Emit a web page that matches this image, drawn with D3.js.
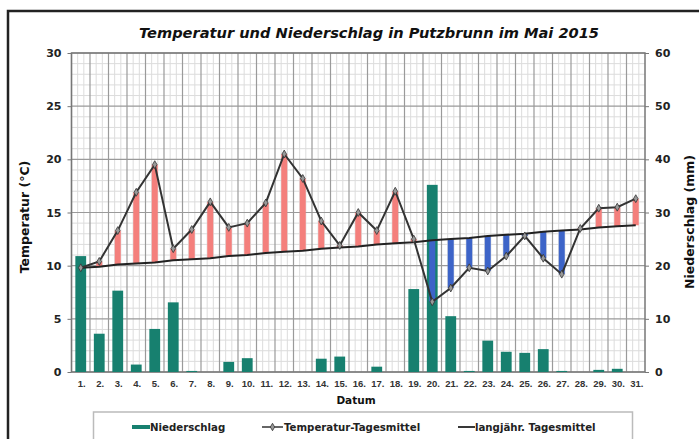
<!DOCTYPE html>
<html>
<head>
<meta charset="utf-8">
<script src="https://cdn.jsdelivr.net/npm/d3@7"></script>
<style>
  body { margin: 0; background: #fff; }
  svg { display: block; font-family: "DejaVu Sans", sans-serif; }
</style>
</head>
<body>
<svg id="chart" width="699" height="439"></svg>
<script>
// data
const days = d3.range(1, 32).map(d => d + ".");
const tempMean = [9.8, 10.4, 13.3, 16.9, 19.5, 11.6, 13.4, 16.0, 13.6, 14.0, 15.9, 20.5, 18.2, 14.2, 11.9, 15.0,
                  13.3, 17.0, 12.5, 6.6, 7.9, 9.8, 9.5, 10.9, 12.8, 10.7, 9.2, 13.5, 15.4, 15.5, 16.3];
const longTerm = [9.8, 9.9, 10.1, 10.2, 10.3, 10.5, 10.6, 10.7, 10.9, 11.0, 11.2, 11.3, 11.4, 11.6, 11.7, 11.8,
                  12.0, 12.1, 12.2, 12.4, 12.5, 12.6, 12.8, 12.9, 13.0, 13.2, 13.3, 13.4, 13.6, 13.7, 13.8];
const precip = [21.8, 7.2, 15.3, 1.4, 8.1, 13.1, 0.2, 0, 1.9, 2.6, 0, 0, 0, 2.5, 2.9, 0,
                1.0, 0, 15.6, 35.2, 10.5, 0.2, 5.9, 3.8, 3.6, 4.3, 0.2, 0, 0.4, 0.6, 0];
const tempTicks = [0, 5, 10, 15, 20, 25, 30];
const precipTicks = [0, 10, 20, 30, 40, 50, 60];
const legendItems = ["Niederschlag", "Temperatur-Tagesmittel", "langjähr. Tagesmittel"];

const svg = d3.select("#chart");
const pLeft = 71.5, pRight = 645, pTop = 53, pBottom = 372;

const x = d3.scaleBand().domain(days).range([pLeft, pRight]).padding(0);
const yT = d3.scaleLinear().domain([0, 30]).range([pBottom, pTop]);
const yP = d3.scaleLinear().domain([0, 60]).range([pBottom, pTop]);

// outer frame
svg.append("rect").attr("x", 8).attr("y", 11).attr("width", 720).attr("height", 460)
    .attr("fill", "#fff").attr("stroke", "#222").attr("stroke-width", 2.5);

// title
svg.append("text").attr("x", 369).attr("y", 38).attr("text-anchor", "middle")
    .attr("font-size", 14.6).attr("font-weight", "bold").attr("font-style", "italic").attr("fill", "#111")
    .text("Temperatur und Niederschlag in Putzbrunn im Mai 2015");

// minor grid
const grid = svg.append("g");
const bw = x.bandwidth();
days.forEach(d => {
    [1, 2].forEach(k => {
        grid.append("line").attr("x1", x(d) + bw * k / 3).attr("x2", x(d) + bw * k / 3)
            .attr("y1", pTop).attr("y2", pBottom).attr("stroke", "#dcdcdc").attr("stroke-width", 1);
    });
});
d3.range(0, 31).forEach(v => {
    if (v % 5 === 0) return;
    grid.append("line").attr("x1", pLeft).attr("x2", pRight).attr("y1", yT(v)).attr("y2", yT(v))
        .attr("stroke", "#dcdcdc").attr("stroke-width", 1);
});
// major grid
days.forEach(d => {
    grid.append("line").attr("x1", x(d)).attr("x2", x(d)).attr("y1", pTop).attr("y2", pBottom)
        .attr("stroke", "#9a9a9a").attr("stroke-width", 1.2);
});
tempTicks.forEach(v => {
    grid.append("line").attr("x1", pLeft).attr("x2", pRight).attr("y1", yT(v)).attr("y2", yT(v))
        .attr("stroke", "#9a9a9a").attr("stroke-width", 1.2);
});
svg.append("rect").attr("x", pLeft).attr("y", pTop).attr("width", pRight - pLeft).attr("height", pBottom - pTop)
    .attr("fill", "none").attr("stroke", "#777").attr("stroke-width", 1.5);

// precipitation bars
svg.append("g").selectAll("rect").data(precip).join("rect")
    .attr("x", (d, i) => x(days[i]) + bw / 2 - 5.4)
    .attr("width", 10.8)
    .attr("y", d => yP(d))
    .attr("height", d => pBottom - yP(d))
    .attr("fill", "#17806f");

// deviation bars
svg.append("g").selectAll("rect").data(tempMean).join("rect")
    .attr("x", (d, i) => x(days[i]) + bw / 2 - 3)
    .attr("width", 6)
    .attr("y", (d, i) => yT(Math.max(d, longTerm[i])))
    .attr("height", (d, i) => Math.abs(yT(d) - yT(longTerm[i])))
    .attr("fill", (d, i) => d >= longTerm[i] ? "#f47f7c" : "#3d64c8");

// long-term mean line
const lineT = d3.line().x((d, i) => x(days[i]) + bw / 2).y(d => yT(d));
svg.append("path").datum(longTerm).attr("d", lineT)
    .attr("fill", "none").attr("stroke", "#222").attr("stroke-width", 2);

// daily mean temperature
svg.append("path").datum(tempMean).attr("d", lineT)
    .attr("fill", "none").attr("stroke", "#333").attr("stroke-width", 2);
svg.append("g").selectAll("path").data(tempMean).join("path")
    .attr("transform", (d, i) => `translate(${x(days[i]) + bw / 2},${yT(d)})`)
    .attr("d", d3.symbol(d3.symbolDiamond, 18))
    .attr("fill", "#999").attr("stroke", "#333").attr("stroke-width", 0.8);

// axes
const styleAxis = g => {
    g.select(".domain").remove();
    g.selectAll("text").attr("font-weight", "bold").attr("fill", "#222");
};
svg.append("g").attr("transform", `translate(${pLeft},0)`)
    .call(d3.axisLeft(yT).tickValues(tempTicks).tickSize(4).tickPadding(6))
    .call(styleAxis)
    .call(g => g.selectAll("text").attr("font-size", 11).attr("font-family", "DejaVu Sans"))
    .call(g => g.selectAll("line").attr("stroke", "#777"));
svg.append("g").attr("transform", `translate(${pRight},0)`)
    .call(d3.axisRight(yP).tickValues(precipTicks).tickSize(4).tickPadding(6))
    .call(styleAxis)
    .call(g => g.selectAll("text").attr("font-size", 11).attr("font-family", "DejaVu Sans"))
    .call(g => g.selectAll("line").attr("stroke", "#777"));
svg.append("g").attr("transform", `translate(0,${pBottom})`)
    .call(d3.axisBottom(x).tickSize(0).tickPadding(8))
    .call(styleAxis)
    .call(g => g.selectAll("text").attr("font-size", 9.5).attr("fill", "#333").attr("dx", 1)
        .attr("font-family", "Liberation Sans"));

// axis titles
svg.append("text").attr("transform", "translate(29,217) rotate(-90)").attr("text-anchor", "middle")
    .attr("font-size", 12.5).attr("font-weight", "bold").attr("fill", "#111").text("Temperatur (°C)");
svg.append("text").attr("transform", "translate(694,222) rotate(-90)").attr("text-anchor", "middle")
    .attr("font-size", 12.5).attr("font-weight", "bold").attr("fill", "#111").text("Niederschlag (mm)");
svg.append("text").attr("x", 356).attr("y", 404).attr("text-anchor", "middle")
    .attr("font-size", 10.5).attr("font-weight", "bold").attr("fill", "#111").text("Datum");

// legend
svg.append("rect").attr("x", 93.5).attr("y", 412).attr("width", 539).attr("height", 40)
    .attr("fill", "#fff").attr("stroke", "#bbb").attr("stroke-width", 1.5);
const lg = svg.append("g").attr("font-size", 10.2).attr("font-weight", "bold").attr("fill", "#222");
lg.append("rect").attr("x", 132).attr("y", 425).attr("width", 18).attr("height", 4).attr("fill", "#17806f");
lg.append("text").attr("x", 150).attr("y", 431).text(legendItems[0]);
lg.append("line").attr("x1", 262).attr("x2", 283).attr("y1", 427).attr("y2", 427)
    .attr("stroke", "#333").attr("stroke-width", 1.5);
lg.append("path").attr("transform", "translate(272.5,427)").attr("d", d3.symbol(d3.symbolDiamond, 16))
    .attr("fill", "#999").attr("stroke", "#333").attr("stroke-width", 0.8);
lg.append("text").attr("x", 284).attr("y", 431).text(legendItems[1]);
lg.append("line").attr("x1", 458).attr("x2", 475).attr("y1", 427).attr("y2", 427)
    .attr("stroke", "#222").attr("stroke-width", 1.8);
lg.append("text").attr("x", 475).attr("y", 431).text(legendItems[2]);
</script>
</body>
</html>
